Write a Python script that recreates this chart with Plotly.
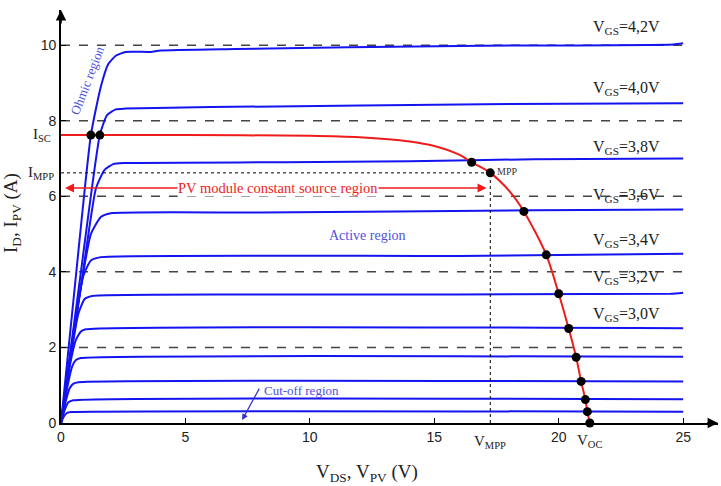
import plotly.graph_objects as go

# ---- data ----
# MOSFET output characteristics (I_D vs V_DS), one list per gate voltage curve (top to bottom)
c1_x = [0, 0.6, 1.2, 1.6, 1.9, 2.2, 2.6, 3.6, 4.0, 7.0, 16.0, 24.6, 25]
c1_y = [0, 3.9, 7.62, 8.9, 9.5, 9.72, 9.82, 9.82, 9.86, 9.9, 9.98, 10.02, 10.05]
c2_x = [0, 0.8, 1.56, 1.85, 2.2, 2.6, 6.0, 18.0, 25]
c2_y = [0, 4.0, 7.62, 8.15, 8.3, 8.32, 8.36, 8.44, 8.46]
c3_x = [0, 0.8, 1.4, 1.75, 2.1, 2.5, 9.0, 14.0, 19.0, 25]
c3_y = [0, 3.6, 6.2, 6.7, 6.85, 6.88, 6.9, 6.93, 6.98, 7.0]
c4_x = [0, 0.7, 1.2, 1.6, 2.0, 8.0, 19.0, 25]
c4_y = [0, 3.2, 5.0, 5.45, 5.55, 5.57, 5.63, 5.65]
c5_x = [0, 0.5, 0.9, 1.2, 1.6, 16.0, 25]
c5_y = [0, 2.4, 3.9, 4.3, 4.39, 4.42, 4.48]
c6_x = [0, 0.4, 0.7, 0.95, 1.25, 7.5, 24.5, 25]
c6_y = [0, 1.8, 2.9, 3.28, 3.36, 3.4, 3.42, 3.45]
c7_x = [0, 0.35, 0.6, 0.8, 1.0, 25]
c7_y = [0, 1.5, 2.2, 2.42, 2.48, 2.51]
c8_x = [0, 0.3, 0.45, 0.6, 0.8, 25]
c8_y = [0, 1.1, 1.5, 1.67, 1.72, 1.75]
c9_x = [0, 0.2, 0.35, 0.5, 0.7, 25]
c9_y = [0, 0.6, 0.92, 1.04, 1.08, 1.1]
c10_x = [0, 0.15, 0.3, 0.5, 25]
c10_y = [0, 0.35, 0.55, 0.6, 0.63]
c11_x = [0, 0.12, 0.25, 0.4, 25]
c11_y = [0, 0.18, 0.27, 0.29, 0.3]

# PV module I-V curve
pv_v = [0, 5, 10, 12, 14, 15, 16, 16.5, 17.25, 18.0, 18.6, 19.5, 20.0, 20.4, 20.7, 20.9, 21.07, 21.15, 21.25]
pv_i = [7.62, 7.62, 7.6, 7.56, 7.45, 7.33, 7.1, 6.9, 6.62, 6.15, 5.6, 4.45, 3.42, 2.5, 1.74, 1.1, 0.62, 0.3, 0.0]

# intersection points (black dots)
dot_v = [1.2, 1.56, 16.5, 17.25, 18.6, 19.5, 20.0, 20.4, 20.7, 20.9, 21.07, 21.15, 21.25]
dot_i = [7.62, 7.62, 6.9, 6.62, 5.6, 4.45, 3.42, 2.5, 1.74, 1.1, 0.62, 0.3, 0.0]

isc = 7.62
impp = 6.62
vmpp = 17.25
voc = 21.25

grid_levels = [2, 4, 6, 8, 10]
x_ticks = [0, 5, 10, 15, 20, 25]
y_ticks = [0, 2, 4, 6, 8, 10]

vgs_text = ["4,2", "4,0", "3,8", "3,6", "3,4", "3,2", "3,0"]
vgs_y = [10.47, 8.86, 7.3, 6.03, 4.84, 3.84, 2.86]

curves = [(c1_x, c1_y), (c2_x, c2_y), (c3_x, c3_y), (c4_x, c4_y), (c5_x, c5_y),
          (c6_x, c6_y), (c7_x, c7_y), (c8_x, c8_y), (c9_x, c9_y), (c10_x, c10_y), (c11_x, c11_y)]

BLUE = "#1414f0"
RED = "#f01c1c"
SERIF = "Liberation Serif, Times New Roman, serif"
SANS = "Liberation Sans, Arial, sans-serif"
XMAX = 26.4
YMAX = 10.93

W, H = 721, 486
L, R, T, B = 61, 3, 10, 63
pw, ph = W - L - R, H - T - B

fig = go.Figure()

for gx, gy in curves:
    fig.add_trace(go.Scatter(x=gx, y=gy, mode="lines",
                             line=dict(color=BLUE, width=2, shape="spline", smoothing=0.5),
                             hoverinfo="skip", showlegend=False))

fig.add_trace(go.Scatter(x=pv_v, y=pv_i, mode="lines",
                         line=dict(color=RED, width=2, shape="spline", smoothing=0.8),
                         showlegend=False))
fig.add_trace(go.Scatter(x=dot_v, y=dot_i, mode="markers",
                         marker=dict(color="black", size=9), showlegend=False, cliponaxis=False))

shapes = []
for g in grid_levels:
    shapes.append(dict(type="line", x0=0, x1=25, y0=g, y1=g, xref="x", yref="y", layer="below",
                       line=dict(color="#444444", width=1.5, dash="dash")))
shapes.append(dict(type="line", x0=0, x1=vmpp, y0=impp, y1=impp, xref="x", yref="y",
                   line=dict(color="black", width=1, dash="dot")))
shapes.append(dict(type="line", x0=vmpp, x1=vmpp, y0=0, y1=impp, xref="x", yref="y",
                   line=dict(color="black", width=1, dash="dot")))

ann = []
# axis arrows
ann.append(dict(x=XMAX, y=0, ax=XMAX - 0.5, ay=0, xref="x", yref="y", axref="x", ayref="y",
                text="", showarrow=True, arrowhead=2, arrowsize=1.3, arrowwidth=1.6, arrowcolor="black"))
ann.append(dict(x=0, y=YMAX, ax=0, ay=YMAX - 0.4, xref="x", yref="y", axref="x", ayref="y",
                text="", showarrow=True, arrowhead=2, arrowsize=1.3, arrowwidth=1.6, arrowcolor="black"))
# red double arrow
ann.append(dict(x=17.1, y=6.22, ax=0.1, ay=6.22, xref="x", yref="y", axref="x", ayref="y",
                text="", showarrow=True, arrowhead=2, startarrowhead=2, arrowside="end+start",
                arrowsize=1.2, arrowwidth=1.5, arrowcolor=RED))
ann.append(dict(x=8.7, y=6.22, xref="x", yref="y", text="PV module constant source region",
                showarrow=False, bgcolor="white", borderpad=0,
                font=dict(family=SERIF, size=14.5, color=RED)))
ann.append(dict(x=vmpp, y=impp, xref="x", yref="y", text="MPP", showarrow=False,
                xanchor="left", xshift=5, yshift=1, font=dict(family=SERIF, size=10, color="#333333")))
ann.append(dict(x=12.3, y=4.95, xref="x", yref="y", text="Active region", showarrow=False,
                font=dict(family=SERIF, size=14, color="#5050e0")))
ann.append(dict(x=1.05, y=9.07, xref="x", yref="y", text="Ohmic region", showarrow=False,
                textangle=-69, font=dict(family=SERIF, size=13, color="#5050e0")))
ann.append(dict(x=9.65, y=0.85, xref="x", yref="y", text="Cut-off region", showarrow=False,
                font=dict(family=SERIF, size=13, color="#5050e0")))
ann.append(dict(x=7.28, y=0.08, ax=8.0, ay=0.95, xref="x", yref="y", axref="x", ayref="y",
                text="", showarrow=True, arrowhead=2, arrowsize=1, arrowwidth=1.2, arrowcolor="#3030d0"))
for t, yy in zip(vgs_text, vgs_y):
    ann.append(dict(x=21.3, y=yy, xref="x", yref="y", xanchor="left", showarrow=False,
                    text="V<sub>GS</sub>=" + t + "V",
                    font=dict(family=SERIF, size=16, color="#222222")))
# special tick labels
ann.append(dict(x=0, y=isc, xref="paper", yref="y", xanchor="right", xshift=-8, showarrow=False,
                text="I<sub>SC</sub>", font=dict(family=SERIF, size=15, color="#222222")))
ann.append(dict(x=0, y=impp, xref="paper", yref="y", xanchor="right", xshift=-5, showarrow=False,
                text="I<sub>MPP</sub>", font=dict(family=SERIF, size=15, color="#222222")))
ann.append(dict(x=vmpp, y=0, xref="x", yref="y", yanchor="top", yshift=-8, showarrow=False,
                text="V<sub>MPP</sub>", font=dict(family=SERIF, size=15, color="#222222")))
ann.append(dict(x=voc, y=0, xref="x", yref="y", yanchor="top", yshift=-7, showarrow=False,
                text="V<sub>OC</sub>", font=dict(family=SERIF, size=15, color="#222222")))
# axis titles (positions given in pixels, converted to paper coordinates)
ann.append(dict(x=(12 - L) / pw, y=(H - B - 213) / ph, xref="paper", yref="paper",
                xanchor="center", yanchor="middle", showarrow=False,
                text="I<sub>D</sub>, I<sub>PV</sub> (A)", textangle=-90,
                font=dict(family=SERIF, size=19, color="#222222")))
ann.append(dict(x=(367 - L) / pw, y=(H - B - 473) / ph, xref="paper", yref="paper",
                xanchor="center", yanchor="middle", showarrow=False,
                text="V<sub>DS</sub>, V<sub>PV</sub> (V)",
                font=dict(family=SERIF, size=19, color="#222222")))

fig.update_layout(
    width=W, height=H,
    margin=dict(l=L, r=R, t=T, b=B),
    plot_bgcolor="white", paper_bgcolor="white",
    shapes=shapes, annotations=ann,
    xaxis=dict(range=[0, XMAX], tickvals=x_ticks, ticks="inside", ticklen=5, tickcolor="black",
               showline=True, linecolor="black", linewidth=1.6, showgrid=False, zeroline=False,
               tickfont=dict(family=SANS, size=14, color="#222222")),
    yaxis=dict(range=[0, YMAX], tickvals=y_ticks, ticks="inside", ticklen=5, tickcolor="black",
               showline=True, linecolor="black", linewidth=1.6, showgrid=False, zeroline=False,
               tickfont=dict(family=SANS, size=14, color="#222222")),
)

fig.write_html("out.html")
